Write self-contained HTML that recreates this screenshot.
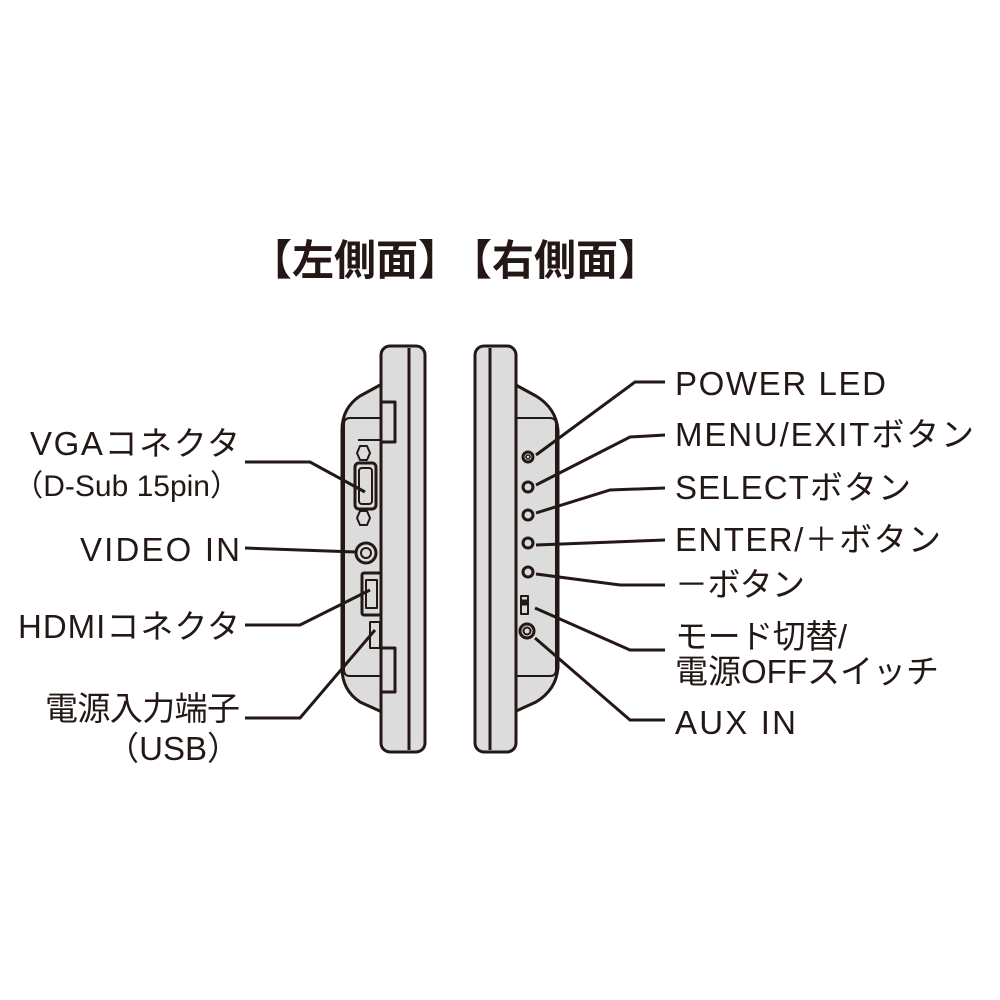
<!DOCTYPE html><html><head><meta charset="utf-8"><style>
body{margin:0;background:#fff;width:1000px;height:1000px;overflow:hidden;font-family:"Liberation Sans","Noto Sans CJK JP",sans-serif}
svg{position:absolute;left:0;top:0}
text{font-family:"Liberation Sans","Noto Sans CJK JP",sans-serif;fill:#231815}
</style></head><body>
<svg width="1000" height="1000" viewBox="0 0 1000 1000">
<text x="250" y="275" font-size="42" font-weight="bold">【左側面】</text>
<text x="450" y="275" font-size="42" font-weight="bold">【右側面】</text>
<g stroke="#231815" stroke-width="3" fill="#dcdcdc" stroke-linejoin="round">
<path d="M382,384 L360,396 Q342,408 342,430 L342,668 Q342,690 360,702 L382,712 Z"/>
<path d="M380,418 L350,418 Q344,418 344,424 L344,670 Q344,676 350,676 L380,676" fill="none" stroke-width="2"/>
<rect x="381" y="346" width="44" height="406" rx="9"/>
<line x1="409" y1="348" x2="409" y2="750"/>
<rect x="381" y="402" width="14" height="40"/>
<rect x="381" y="648" width="14" height="44"/>
<path d="M358,440 L380,440" fill="none" stroke-width="2"/>
<polygon points="357,453 360,446 367,446 370,453 367,460 360,460" stroke-width="2"/>
<polygon points="357,518 360,511 367,511 370,518 367,525 360,525" stroke-width="2"/>
<rect x="355" y="463" width="21" height="46" rx="4"/>
<rect x="359" y="468" width="13" height="36" rx="3" stroke-width="2"/>
<circle cx="366" cy="553" r="10"/><circle cx="366" cy="553" r="5" stroke-width="2"/>
<rect x="362" y="573" width="19" height="42" rx="2"/>
<rect x="366" y="580" width="11" height="28" stroke-width="2"/>
<rect x="370" y="622" width="10" height="26" stroke-width="2"/>
<path d="M514,384 L536,396 Q556,408 558,430 L558,668 Q556,690 536,702 L514,712 Z"/>
<path d="M516,418 L550,418 Q556,418 556,424 L556,670 Q556,676 550,676 L516,676" fill="none" stroke-width="2"/>
<rect x="475" y="346" width="41" height="406" rx="9"/>
<line x1="490" y1="348" x2="490" y2="750"/>
<circle cx="528" cy="457" r="5"/><circle cx="528" cy="457" r="2" stroke-width="1.5"/>
<circle cx="528" cy="487" r="5"/>
<circle cx="528" cy="515" r="5"/>
<circle cx="528" cy="543" r="5"/>
<circle cx="528" cy="572" r="5"/>
<rect x="521" y="596" width="7" height="18" stroke-width="2"/>
<rect x="522" y="600" width="5" height="5" fill="#231815" stroke-width="1"/>
<circle cx="527" cy="631" r="7"/><circle cx="527" cy="631" r="3.5" stroke-width="2"/>
</g>
<g stroke="#231815" stroke-width="3" fill="none">
<polyline points="665,382 635,382 536,455"/>
<polyline points="665,435 630,437 536,485"/>
<polyline points="665,488 610,490 536,513"/>
<polyline points="665,540 536,545"/>
<polyline points="665,585 620,585 536,574"/>
<polyline points="665,650 630,650 535,608"/>
<polyline points="665,720 630,720 535,638"/>
<polyline points="245,462 310,462 365,492"/>
<polyline points="245,548 356,552"/>
<polyline points="245,625 300,625 370,590"/>
<polyline points="245,718 300,718 375,630"/>
</g>
<g font-size="33">
<text x="675" y="395" textLength="211">POWER LED</text>
<text x="675" y="446" textLength="299">MENU/EXITボタン</text>
<text x="675" y="499" textLength="236">SELECTボタン</text>
<text x="675" y="551" textLength="266">ENTER/＋ボタン</text>
<text x="675" y="596" textLength="130">－ボタン</text>
<text x="675" y="648" textLength="172">モード切替/</text>
<text x="675" y="683" textLength="264">電源OFFスイッチ</text>
<text x="675" y="734" textLength="121">AUX IN</text>
<text x="30" y="455" textLength="210">VGAコネクタ</text>
<text x="240" y="496" text-anchor="end" font-size="30">（D-Sub 15pin）</text>
<text x="80" y="561" textLength="160">VIDEO IN</text>
<text x="18" y="638" textLength="222">HDMIコネクタ</text>
<text x="45" y="720" textLength="195">電源入力端子</text>
<text x="240" y="760" text-anchor="end">（USB）</text>
</g>
</svg></body></html>
